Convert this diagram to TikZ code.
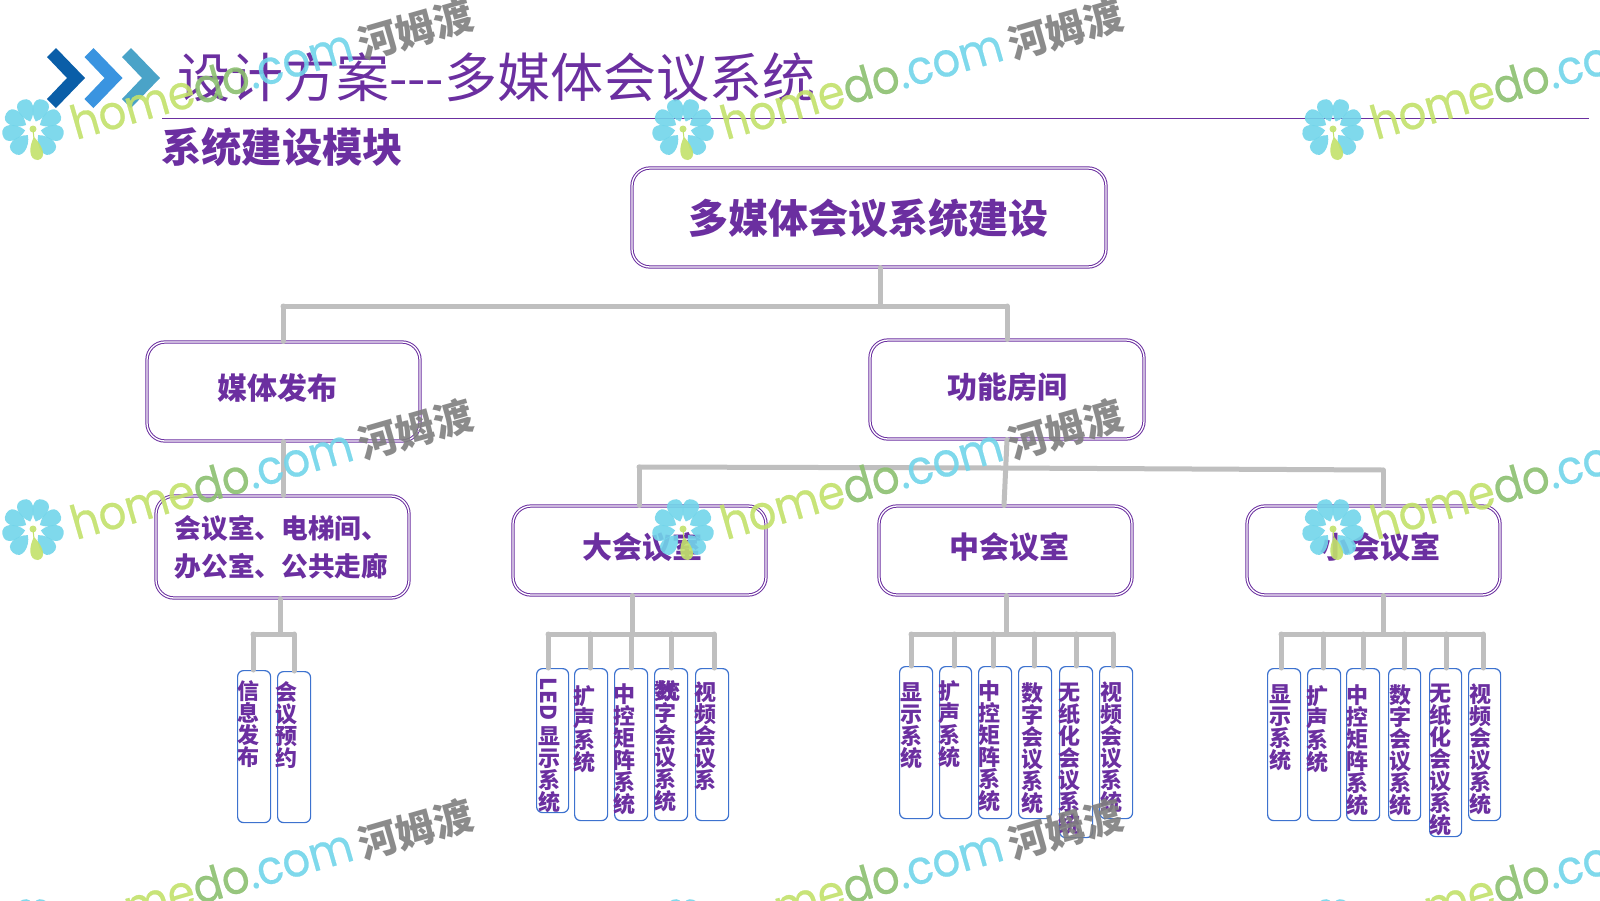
\documentclass[tikz,border=0pt]{standalone}
\usepackage{fontspec}
\newfontfamily\cjk{Noto Sans CJK SC}
\newfontfamily\wmlatin[FakeBold=.5,FakeStretch=.92]{Poppins}
\usetikzlibrary{calc}
\definecolor{titlepurple}{HTML}{6B2FA0}
\definecolor{boxblue}{HTML}{3D72CF}
\definecolor{conngray}{HTML}{BFBFBF}
\definecolor{wmgreen}{HTML}{C3E26B}
\definecolor{wmdark}{HTML}{8CC070}
\definecolor{wmcyan}{HTML}{72D5EA}
\definecolor{wmgray}{HTML}{7F7F7F}
\tikzset{
	conn/.style={draw=conngray,line width=5pt,line cap=round},
	bigbox/.style={draw=titlepurple,line width=1pt,double=white,double distance=1.3pt,rounded corners=18pt},
	boxtext/.style={inner sep=0pt,text=titlepurple,font=\cjk\bfseries\fontsize{30}{34}\selectfont},
	smallbox/.style={draw=boxblue,line width=1.2pt,rounded corners=6pt,inner sep=0pt},
	systext/.style={text=titlepurple,font=\cjk\bfseries\fontsize{22}{22}\selectfont,align=center,inner sep=0pt},
	petal/.style={fill=wmcyan,opacity=.9},
}
\newcommand{\sysbox}[9]{
	\node[smallbox,anchor=north west,minimum width={(#3-#2)*1pt},minimum height={(#5-#4)*1pt}] (#1) at (#2,#4) {};
	\node[systext,anchor=north] (#1t) at (#7,#8) {#9};
	\coordinate (#1d) at (#6,634);
	\draw[conn] (#1d) -- (#1d|-#1.north);
}
\begin{document}
\begin{tikzpicture}[x=1pt,y=-1pt]
	\useasboundingbox (0,0) rectangle (1600,900);
	\fill[fill=white] (0,0) rectangle (1600,900);

	\foreach \ox/\chv in {0/0A5EA8,37.5/3A94E0,75/4AA3C8}{
		\definecolor{chevcol}{HTML}{\chv}
		\fill[chevcol,xshift=\ox] (47,57) -- (56,48) -- (85,78) -- (56,108) -- (47,99) -- (67,78) -- cycle;
	}
	\node[anchor=west,inner sep=0pt,text=titlepurple,font=\cjk\fontsize{53}{53}\selectfont] (title) at (177,77) {设计方案---多媒体会议系统};
	\draw[titlepurple,line width=.6pt] (162,118) -- (1589,118);
	\node[anchor=west,inner sep=0pt,text=titlepurple,font=\cjk\bfseries\fontsize{40.3}{40.3}\selectfont] (subtitle) at (161,147) {系统建设模块};

	\node[bigbox,minimum width=474,minimum height=99] (root) at (869,217.5) {};
	\node[boxtext,font=\cjk\bfseries\fontsize{40}{40}\selectfont] (roott) at (868,218.5) {多媒体会议系统建设};
	\node[bigbox,minimum width=273,minimum height=99] (media) at (283.5,391.5) {};
	\node[boxtext] (mediat) at (277.5,388) {媒体发布};
	\node[bigbox,minimum width=274,minimum height=99] (rooms) at (1007,389.5) {};
	\node[boxtext] (roomst) at (1007,387) {功能房间};
	\node[bigbox,minimum width=253,minimum height=102] (spots) at (282.5,547) {};
	\node[boxtext,align=left,font=\cjk\bfseries\fontsize{26.7}{38}\selectfont] (spotst) at (281.5,547) {会议室、电梯间、\\办公室、公共走廊};
	\node[bigbox,minimum width=253,minimum height=89] (bigroom) at (639.5,550.5) {};
	\node[boxtext] (bigroomt) at (642.5,547) {大会议室};
	\node[bigbox,minimum width=253,minimum height=89] (midroom) at (1005.5,550.5) {};
	\node[boxtext] (midroomt) at (1009.5,547) {中会议室};
	\node[bigbox,minimum width=253,minimum height=89] (minroom) at (1373.5,550.5) {};
	\node[boxtext] (minroomt) at (1380.5,547) {小会议室};

	\coordinate (topstem) at (880,306);
	\coordinate (busl) at (283,306);
	\coordinate (busr) at (1007,306);
	\draw[conn] (root.south-|topstem) -- (topstem);
	\draw[conn] (busl) -- (busr);
	\draw[conn] (busl) -- (busl|-media.north);
	\draw[conn] (busr) -- (busr|-rooms.north);

	\draw[conn] (media.south) -- (media.south|-spots.north);

	\coordinate (roomsl) at (639,467);
	\coordinate (roomsm) at (1004,468);
	\coordinate (roomsr) at (1383,470);
	\draw[conn] (rooms.south) -- (roomsm|-midroom.north);
	\draw[conn] (roomsl) -- (roomsm) -- (roomsr);
	\draw[conn] (roomsl) -- (roomsl|-bigroom.north);
	\draw[conn] (roomsr) -- (roomsr|-minroom.north);

	\sysbox{info}{237}{270}{670}{822}{253}{248}{680}{信\\息\\发\\布}
	\sysbox{book}{277}{310}{671}{822}{294}{286}{681}{会\\议\\预\\约}
	\coordinate (spotstem) at (280,634);
	\draw[conn] (spots.south-|spotstem) -- (spotstem);
	\draw[conn] (infod) -- (bookd);

	\sysbox{led}{536}{568}{668}{812}{548}{549}{677}{\rotatebox{-90}{LED\kern5pt}\\显\\示\\系\\统}
	\sysbox{bsound}{574}{607}{668}{820}{590}{584}{685}{扩\\声\\系\\统}
	\sysbox{bmatrix}{614}{647}{668}{820}{631}{624}{683}{中\\控\\矩\\阵\\系\\统}
	\sysbox{bdigit}{654}{687}{668}{820}{671}{665}{680}{数\\字\\会\\议\\系\\统}
	\sysbox{bvideo}{695}{728}{668}{820}{714}{705}{682}{视\\频\\会\\议\\系}
	\node[systext,anchor=north] (bvideoover) at (669,680) {统};
	\coordinate (bigstem) at (632,634);
	\draw[conn] (bigroom.south-|bigstem) -- (bigstem);
	\draw[conn] (ledd) -- (bvideod);

	\sysbox{mshow}{899}{932}{666}{818}{911}{911}{682}{显\\示\\系\\统}
	\sysbox{msound}{939}{971}{666}{818}{954}{949}{680}{扩\\声\\系\\统}
	\sysbox{mmatrix}{978}{1011}{666}{818}{993}{989}{680}{中\\控\\矩\\阵\\系\\统}
	\sysbox{mdigit}{1018}{1051}{666}{818}{1034}{1032}{682}{数\\字\\会\\议\\系\\统}
	\sysbox{mpaper}{1059}{1092}{666}{837}{1076}{1069}{683}{无\\纸\\化\\会\\议\\系\\统}
	\sysbox{mvideo}{1099}{1132}{666}{818}{1113}{1111}{682}{视\\频\\会\\议\\系\\统}
	\coordinate (midstem) at (1006,634);
	\draw[conn] (midroom.south-|midstem) -- (midstem);
	\draw[conn] (mshowd) -- (mvideod);

	\sysbox{sshow}{1267}{1300}{668}{820}{1281}{1280}{684}{显\\示\\系\\统}
	\sysbox{ssound}{1307}{1340}{668}{820}{1323}{1317}{685}{扩\\声\\系\\统}
	\sysbox{smatrix}{1346}{1379}{668}{820}{1363}{1357}{684}{中\\控\\矩\\阵\\系\\统}
	\sysbox{sdigit}{1388}{1420}{668}{820}{1404}{1400}{684}{数\\字\\会\\议\\系\\统}
	\sysbox{spaper}{1429}{1461}{668}{836}{1446}{1440}{684}{无\\纸\\化\\会\\议\\系\\统}
	\sysbox{svideo}{1468}{1500}{668}{820}{1483}{1480}{684}{视\\频\\会\\议\\系\\统}
	\coordinate (minstem) at (1383,634);
	\draw[conn] (minroom.south-|minstem) -- (minstem);
	\draw[conn] (sshowd) -- (svideod);

	\begin{scope}
		\clip (0,0) rectangle (1600,900);
		\foreach \ox in {0,650,1300}{
			\foreach \oy in {0,400,800}{
				\begin{scope}[shift={(\ox,\oy)}]
					\foreach \ang in {-50,-10,...,230}{
						\fill[petal,shift={(33,129)},rotate=\ang] (8,0) .. controls (15,9) and (31,12) .. (31,0) .. controls (31,-12) and (15,-9) .. (8,0) -- cycle;
					}
					\draw[wmgreen,line width=1pt] (33,129) -- (34,139);
					\fill[wmgreen,opacity=.9] (34,137) .. controls (29,146) and (28,160) .. (38,160) .. controls (47,158) and (43,146) .. (34,137) -- cycle;
					\fill[wmgreen,opacity=.9] (33,129) circle (3.5);
					\node[rotate=16,anchor=base west,inner sep=0pt,opacity=.9,font=\wmlatin\fontsize{47}{47}\selectfont] (wmname-\ox-\oy) at (76,140) {\textcolor{wmgreen}{home}\textcolor{wmdark}{do}\textcolor{wmcyan}{.com}};
					\node[rotate=16,anchor=base west,inner sep=0pt,opacity=.9,text=wmgray,font=\cjk\bfseries\fontsize{39}{39}\selectfont] (wmcn-\ox-\oy) at (363,60) {河姆渡};
				\end{scope}
			}
		}
	\end{scope}
\end{tikzpicture}
\end{document}
